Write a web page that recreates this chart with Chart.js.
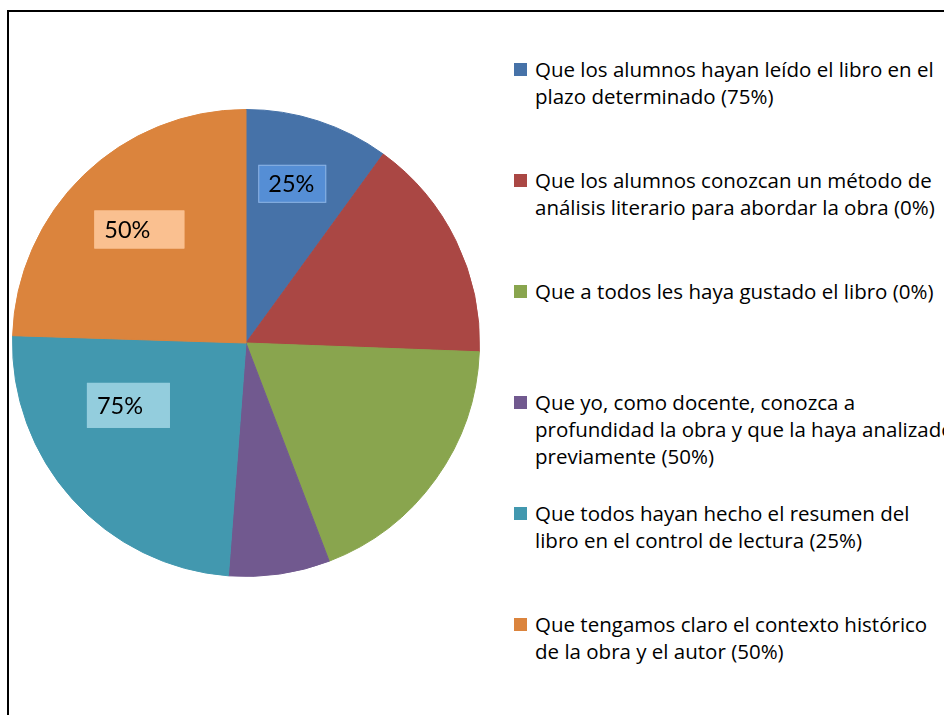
<!DOCTYPE html>
<html>
<head>
<meta charset="utf-8">
<script src="https://cdn.jsdelivr.net/npm/chart.js@4"></script>
<style>
  body { margin: 0; width: 944px; height: 715px; overflow: hidden; background: #fff; position: relative; font-family: 'Open Sans', 'Noto Sans', sans-serif; }
  #frame { position: absolute; left: 7px; top: 10px; width: 1000px; height: 800px; border-left: 2px solid #000; border-top: 2px solid #000; }
  #pie { position: absolute; left: 12px; top: 109px; }
  #legend { position: absolute; left: 514px; top: 56px; width: 440px; }
  .item { position: relative; height: 111px; padding-left: 21px; font-size: 20.5px; line-height: 27px; color: #000; white-space: nowrap; }
  .item span.box { position: absolute; left: 0; top: 7px; width: 13px; height: 13px; }
</style>
</head>
<body>
<div id="frame"></div>
<canvas id="pie" width="468" height="468"></canvas>
<div id="legend"></div>
<script>
// Categorías (cada una partida en las líneas que usa la leyenda)
const categories = [
    ['Que los alumnos hayan leído el libro en el', 'plazo determinado (75%)'],
    ['Que los alumnos conozcan un método de', 'análisis literario para abordar la obra (0%)'],
    ['Que a todos les haya gustado el libro (0%)'],
    ['Que yo, como docente, conozca a', 'profundidad la obra y que la haya analizado', 'previamente (50%)'],
    ['Que todos hayan hecho el resumen del', 'libro en el control de lectura (25%)'],
    ['Que tengamos claro el contexto histórico', 'de la obra y el autor (50%)']
];
// Tamaño de cada porción
const values = [10, 15.6, 18.6, 7, 24.3, 24.5];
// Etiquetas que aparecen sobre algunas porciones
const sliceLabels = ['25%', null, null, null, '75%', '50%'];

const colors = ['#4672a8', '#aa4744', '#89a54e', '#71598f', '#4298af', '#db843d'];

// Dónde y cómo se dibuja cada caja de etiqueta
const labelStyle = {
    0: { t: 0.45, r: 0.71, w: 68, h: 38, fill: '#558ed5', stroke: '#8db3e2' },
    4: { t: 0.66, r: 0.57, w: 83, h: 45, fill: '#93cddd', stroke: '#93cddd' },
    5: { t: 0.51, r: 0.667, w: 90, h: 38, fill: '#fac090', stroke: '#fac090' }
};

const boxLabels = {
    id: 'boxLabels',
    afterDatasetsDraw(chart) {
        const ctx = chart.ctx;
        const meta = chart.getDatasetMeta(0);
        ctx.save();
        ctx.font = '23.5px Lato, "Noto Sans", sans-serif';
        ctx.textBaseline = 'middle';
        sliceLabels.forEach((txt, i) => {
            if (!txt) return;
            const st = labelStyle[i];
            const arc = meta.data[i];
            const ang = arc.startAngle + st.t * (arc.endAngle - arc.startAngle);
            const cx = arc.x + Math.cos(ang) * st.r * arc.outerRadius;
            const cy = arc.y + Math.sin(ang) * st.r * arc.outerRadius;
            const x = cx - st.w / 2, y = cy - st.h / 2;
            ctx.fillStyle = st.fill;
            ctx.fillRect(x, y, st.w, st.h);
            ctx.strokeStyle = st.stroke;
            ctx.lineWidth = 1;
            ctx.strokeRect(x + 0.5, y + 0.5, st.w - 1, st.h - 1);
            ctx.fillStyle = '#000';
            ctx.fillText(txt, x + 10, cy + 1);
        });
        ctx.restore();
    }
};

const chart = new Chart(document.getElementById('pie'), {
    type: 'pie',
    data: {
        labels: categories,
        datasets: [{
            data: values,
            backgroundColor: colors,
            borderColor: colors,
            borderWidth: 1
        }]
    },
    options: {
        responsive: false,
        animation: false,
        events: [],
        layout: { padding: 0 },
        plugins: {
            legend: { display: false },
            tooltip: { enabled: false }
        }
    },
    plugins: [boxLabels]
});

// Leyenda a la derecha
const legend = document.getElementById('legend');
chart.data.labels.forEach((lines, i) => {
    const div = document.createElement('div');
    div.className = 'item';
    const box = document.createElement('span');
    box.className = 'box';
    box.style.background = colors[i];
    div.appendChild(box);
    lines.forEach((line, j) => {
        if (j > 0) div.appendChild(document.createElement('br'));
        div.appendChild(document.createTextNode(line));
    });
    legend.appendChild(div);
});
</script>
</body>
</html>
